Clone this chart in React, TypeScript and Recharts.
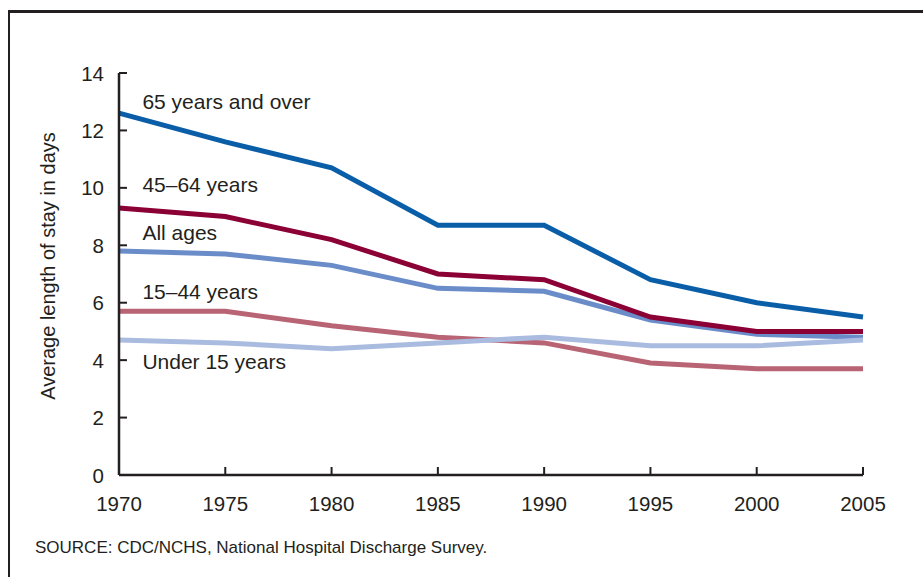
import { LineChart, Line, XAxis, YAxis, ReferenceDot } from "recharts";

const years = [1970, 1975, 1980, 1985, 1990, 1995, 2000, 2005];
const age65Plus = [12.6, 11.6, 10.7, 8.7, 8.7, 6.8, 6.0, 5.5];
const age45to64 = [9.3, 9.0, 8.2, 7.0, 6.8, 5.5, 5.0, 5.0];
const allAges = [7.8, 7.7, 7.3, 6.5, 6.4, 5.4, 4.9, 4.8];
const age15to44 = [5.7, 5.7, 5.2, 4.8, 4.6, 3.9, 3.7, 3.7];
const under15 = [4.7, 4.6, 4.4, 4.6, 4.8, 4.5, 4.5, 4.7];
const yTicks = [0, 2, 4, 6, 8, 10, 12, 14];

// series labels sit next to the lines, in data coords
const seriesLabels = [
  { text: "65 years and over", x: 1971.1, y: 13.0 },
  { text: "45\u201364 years", x: 1971.1, y: 10.12 },
  { text: "All ages", x: 1971.1, y: 8.45 },
  { text: "15\u201344 years", x: 1971.1, y: 6.4 },
  { text: "Under 15 years", x: 1971.1, y: 3.94 },
];

const data = years.map((year, i) => ({
  year,
  age65Plus: age65Plus[i],
  age45to64: age45to64[i],
  allAges: allAges[i],
  age15to44: age15to44[i],
  under15: under15[i],
}));

const ink = "#231f20";
const font = "'Liberation Sans', Arial, sans-serif";
const PLOT_LEFT = 119;
const PLOT_BOTTOM = 475;
const TICK = 8;

function YTick({ y, payload }: any) {
  return (
    <g>
      <line x1={PLOT_LEFT} x2={PLOT_LEFT + TICK} y1={y} y2={y} stroke={ink} strokeWidth={2} />
      <text x={104} y={y} textAnchor="end" dominantBaseline="central" fontSize={20.5} fill={ink} fontFamily={font}>
        {payload.value}
      </text>
    </g>
  );
}

function XTick({ x, payload }: any) {
  return (
    <g>
      {payload.value !== 1970 && (
        <line x1={x} x2={x} y1={PLOT_BOTTOM} y2={PLOT_BOTTOM - TICK} stroke={ink} strokeWidth={2} />
      )}
      <text x={x} y={503} textAnchor="middle" dominantBaseline="central" fontSize={20.5} fill={ink} fontFamily={font}>
        {payload.value}
      </text>
    </g>
  );
}

function SeriesLabel({ viewBox, value }: any) {
  return (
    <text x={viewBox.x} y={viewBox.y} dominantBaseline="central" fontSize={21} fill={ink} fontFamily={font}>
      {value}
    </text>
  );
}

export default function App() {
  const lineProps = { type: "linear" as const, strokeWidth: 5, dot: false, isAnimationActive: false };
  return (
    <div style={{ position: "absolute", left: 0, top: 0, width: 923, height: 577, background: "#fff", fontFamily: font }}>
      <div style={{ position: "absolute", left: 8, top: 10, width: 915, height: 567, borderTop: `3px solid ${ink}`, borderLeft: `2px solid ${ink}` }} />
      <LineChart width={923} height={577} data={data} margin={{ top: 73, right: 60, bottom: 72, left: 59 }}>
        <XAxis
          dataKey="year"
          type="number"
          domain={[1970, 2005]}
          ticks={years}
          height={30}
          axisLine={{ stroke: ink, strokeWidth: 2.5 }}
          tickLine={false}
          tick={<XTick />}
          interval={0}
        />
        <YAxis
          domain={[0, 14]}
          ticks={yTicks}
          width={60}
          axisLine={{ stroke: ink, strokeWidth: 2.5 }}
          tickLine={false}
          tick={<YTick />}
          interval={0}
        />
        <Line dataKey="age15to44" stroke="#b86474" {...lineProps} />
        <Line dataKey="allAges" stroke="#6a8cc8" {...lineProps} />
        <Line dataKey="under15" stroke="#aabbe0" {...lineProps} />
        <Line dataKey="age45to64" stroke="#8b0035" {...lineProps} />
        <Line dataKey="age65Plus" stroke="#0a5ea8" {...lineProps} />
        {seriesLabels.map((l) => (
          <ReferenceDot key={l.text} x={l.x} y={l.y} r={0} stroke="none" fill="none" label={<SeriesLabel value={l.text} />} />
        ))}
      </LineChart>
      <div
        style={{
          position: "absolute",
          left: 48,
          top: 266,
          transform: "translate(-50%, -50%) rotate(-90deg)",
          whiteSpace: "nowrap",
          fontSize: 20,
          color: ink,
        }}
      >
        Average length of stay in days
      </div>
      <div style={{ position: "absolute", left: 35, top: 538, fontSize: 17, color: ink, whiteSpace: "nowrap" }}>
        SOURCE: CDC/NCHS, National Hospital Discharge Survey.
      </div>
    </div>
  );
}
